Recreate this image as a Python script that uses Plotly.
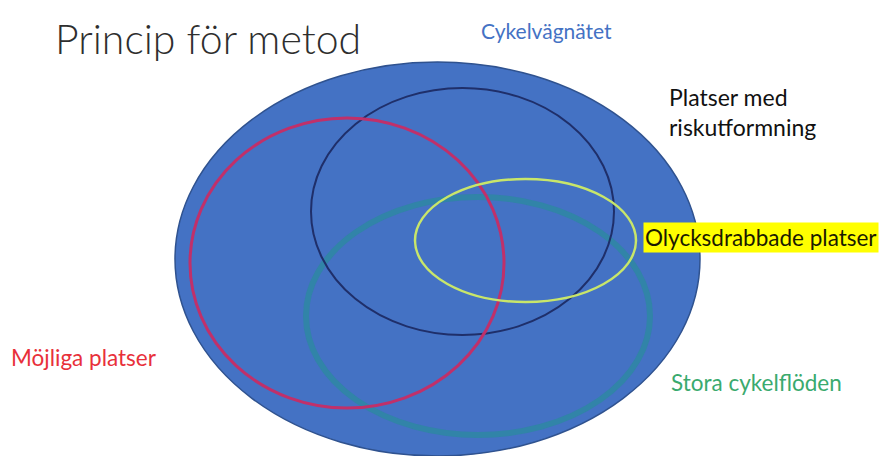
import plotly.graph_objects as go

# Ellipses (set name, x0, x1, y0, y1) in pixel-like diagram coordinates
set_names = ["Cykelvägnätet", "Möjliga platser", "Platser med riskutformning", "Stora cykelflöden", "Olycksdrabbade platser"]
x0 = [175, 190, 311, 306, 415]
x1 = [700, 504, 614, 650, 636]
y0 = [62, 118, 88, 197, 179]
y1 = [456, 408, 335, 435, 302]
line_colors = ["#2F528F", "#C0306A", "#1F2F6A", "rgba(30,150,140,0.5)", "#C8E66A"]
line_widths = [1.5, 3, 2, 6, 2.5]
fill_colors = ["#4472C4", None, None, None, None]

# Labels
label_text = ["Cykelvägnätet", "Platser med<br>riskutformning", "Olycksdrabbade platser", "Möjliga platser", "Stora cykelflöden"]
label_x = [479, 667, 643, 9, 669]
label_y = [30, 112, 237, 357, 382]
label_size = [21, 23, 22.5, 22.5, 22.5]
label_color = ["#4472C4", "#111111", "#1a1a00", "#E8303A", "#3AAA6E"]
label_bg = [None, None, "#FFFF00", None, None]

title_text = "Princip för metod"

fig = go.Figure()
fig.add_trace(go.Scatter(x=[0, 880], y=[0, 456], mode="markers", marker=dict(opacity=0), hoverinfo="skip", showlegend=False))

order = [0, 3, 2, 1, 4]
for i in order:
    fig.add_shape(type="circle", xref="x", yref="y", x0=x0[i], x1=x1[i], y0=y0[i], y1=y1[i],
                  line=dict(color=line_colors[i], width=line_widths[i]),
                  fillcolor=fill_colors[i] if fill_colors[i] else "rgba(0,0,0,0)")

for t, lx, ly, c, bg, s in zip(label_text, label_x, label_y, label_color, label_bg, label_size):
    fig.add_annotation(x=lx, y=ly, xref="x", yref="y", text=t, showarrow=False,
                       xanchor="left", yanchor="middle", align="left",
                       font=dict(family="Lato, sans-serif", size=s, color=c),
                       bgcolor=bg if bg else "rgba(0,0,0,0)", borderpad=1)

fig.add_annotation(x=53, y=38, xref="x", yref="y", text=title_text, showarrow=False,
                   xanchor="left", yanchor="middle",
                   font=dict(family="Lato, sans-serif", size=41, color="#2e2e2e", weight=300))

fig.update_layout(width=880, height=456, margin=dict(l=0, r=0, t=0, b=0),
                  paper_bgcolor="white", plot_bgcolor="white",
                  xaxis=dict(range=[0, 880], visible=False, fixedrange=True),
                  yaxis=dict(range=[456, 0], visible=False, fixedrange=True))

fig.write_html("out.html", config={"displayModeBar": False},
               post_script="document.body.style.margin='0';document.body.style.overflow='hidden';")
